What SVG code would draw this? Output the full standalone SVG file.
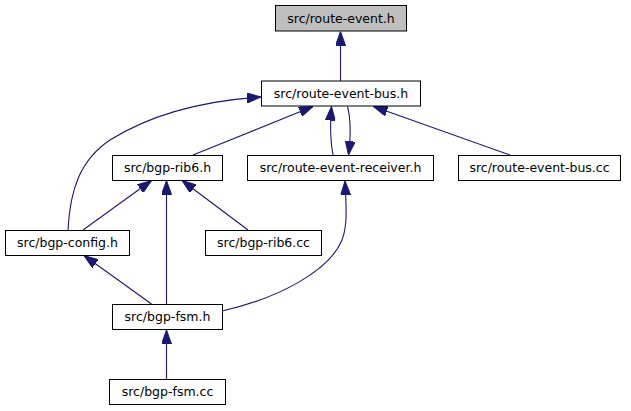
<svg xmlns="http://www.w3.org/2000/svg" width="631" height="411" viewBox="0 0 631 411">
<style>
.node rect{fill:#ffffff;stroke:#000000;stroke-width:1}
.node.root rect{fill:#bfbfbf}
.node text{font-family:"DejaVu Sans",sans-serif;font-size:12.5px;fill:#000000;text-anchor:middle}
.edges path{fill:none;stroke:#191970;stroke-width:1.1;marker-end:url(#arr)}
</style>
<defs>
<marker id="arr" markerUnits="userSpaceOnUse" markerWidth="14" markerHeight="10" refX="14" refY="5" orient="auto">
<path d="M0,0 L14,5 L0,10 z" fill="#191970" stroke="#191970" stroke-width="1"/>
</marker>
</defs>
<rect width="631" height="411" fill="#ffffff"/>
<g class="edges">
<path d="M340.5,81 L340.5,31.5"/>
<path d="M68,230 C70,190 80,160 110,140 C150,115 200,101 261,97"/>
<path d="M193,155 L313,106.5"/>
<path d="M333,155 C330,140 330,125 331.5,106.5"/>
<path d="M347.5,106.5 C351,120 351,135 348.5,155"/>
<path d="M510,155 L373.5,106.5"/>
<path d="M83,230 L151.5,180.5"/>
<path d="M166.5,304 L166.5,180.5"/>
<path d="M248,230 L182,180.5"/>
<path d="M151.5,304 L84,255.5"/>
<path d="M222,311 C280,298 330,270 342,240 C348,225 346,205 345,181"/>
<path d="M166.5,379 L166.5,330"/>
</g>
<g id="node-route-event-h" class="node root"><rect x="275.5" y="5.5" width="131" height="25.5"/><text x="341" y="22.5">src/route-event.h</text></g>
<g id="node-route-event-bus-h" class="node"><rect x="261.5" y="81" width="159" height="25"/><text x="341" y="98">src/route-event-bus.h</text></g>
<g id="node-bgp-rib6-h" class="node"><rect x="112.5" y="155.5" width="110" height="25"/><text x="167.5" y="172">src/bgp-rib6.h</text></g>
<g id="node-route-event-receiver-h" class="node"><rect x="247.5" y="155.5" width="186" height="25"/><text x="340.5" y="172">src/route-event-receiver.h</text></g>
<g id="node-route-event-bus-cc" class="node"><rect x="458.5" y="155.5" width="162" height="25"/><text x="539.5" y="172">src/route-event-bus.cc</text></g>
<g id="node-bgp-config-h" class="node"><rect x="5.5" y="230.5" width="124" height="25"/><text x="67.5" y="247">src/bgp-config.h</text></g>
<g id="node-bgp-rib6-cc" class="node"><rect x="205.5" y="230.5" width="116" height="25"/><text x="263.5" y="247">src/bgp-rib6.cc</text></g>
<g id="node-bgp-fsm-h" class="node"><rect x="112.5" y="304.5" width="110" height="25"/><text x="167.5" y="321">src/bgp-fsm.h</text></g>
<g id="node-bgp-fsm-cc" class="node"><rect x="109.5" y="379.5" width="116" height="25"/><text x="167.5" y="396">src/bgp-fsm.cc</text></g>
</svg>
